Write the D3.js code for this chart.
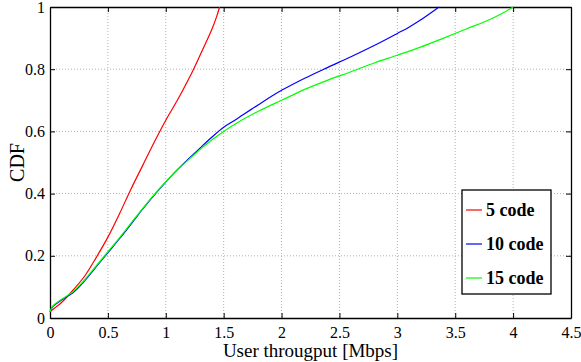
<!DOCTYPE html>
<html>
<head>
<meta charset="utf-8">
<script src="https://cdn.jsdelivr.net/npm/d3@7"></script>
<style>
  body { margin: 0; background: #fff; }
  svg, svg text { font-family: "Liberation Serif", "DejaVu Serif", serif; }
  .grid line { stroke: #b0b0b0; stroke-dasharray: 1, 2; }
</style>
</head>
<body>
<div id="chart"></div>
<script>
(function () {
  var seriesNames = ['5 code', '10 code', '15 code'];
  var seriesColors = ['#ff0000', '#0000ff', '#00ff00'];

  // throughput [Mbps] and CDF values
  var x5 = [0, 0.05, 0.1, 0.2, 0.3, 0.4, 0.5, 0.6, 0.7, 0.8, 0.9, 1.0, 1.1, 1.2, 1.24, 1.3, 1.35, 1.4, 1.44, 1.465];
  var y5 = [0.02, 0.035, 0.05, 0.09, 0.135, 0.195, 0.26, 0.335, 0.415, 0.49, 0.565, 0.636, 0.70, 0.77, 0.80, 0.848, 0.888, 0.93, 0.97, 1.0];

  var x10 = [0, 0.02, 0.05, 0.1, 0.2, 0.3, 0.4, 0.5, 0.6, 0.7, 0.8, 0.9, 1.0, 1.1, 1.2, 1.3, 1.4, 1.5, 1.6, 1.8, 2.0, 2.2, 2.4, 2.6, 2.8, 3.0, 3.1, 3.2, 3.3, 3.36];
  var y10 = [0.02, 0.035, 0.045, 0.058, 0.082, 0.12, 0.165, 0.21, 0.255, 0.302, 0.35, 0.395, 0.437, 0.477, 0.513, 0.548, 0.582, 0.613, 0.637, 0.686, 0.732, 0.771, 0.806, 0.84, 0.876, 0.915, 0.935, 0.958, 0.984, 1.0];

  var x15 = [0, 0.02, 0.05, 0.1, 0.2, 0.3, 0.4, 0.5, 0.6, 0.7, 0.8, 0.9, 1.0, 1.1, 1.2, 1.3, 1.4, 1.5, 1.6, 1.8, 2.0, 2.2, 2.4, 2.6, 2.8, 3.0, 3.2, 3.4, 3.6, 3.8, 3.9, 4.0];
  var y15 = [0.02, 0.037, 0.047, 0.06, 0.085, 0.123, 0.168, 0.213, 0.258, 0.305, 0.352, 0.397, 0.438, 0.476, 0.51, 0.543, 0.573, 0.6, 0.624, 0.665, 0.70, 0.735, 0.765, 0.792, 0.82, 0.845, 0.871, 0.9, 0.93, 0.96, 0.978, 1.0];

  var xTicks = [0, 0.5, 1, 1.5, 2, 2.5, 3, 3.5, 4, 4.5];
  var yTicks = [0, 0.2, 0.4, 0.6, 0.8, 1];

  var W = 581, H = 362;
  var left = 50, right = 571, top = 7, bottom = 318;

  var svg = d3.select('#chart').append('svg')
      .attr('width', W).attr('height', H);

  var x = d3.scaleLinear().domain([0, 4.5]).range([left, right]);
  var y = d3.scaleLinear().domain([0, 1]).range([bottom, top]);

  function fmt(v) { return String(v); }

  // grid
  var grid = svg.append('g').attr('class', 'grid');
  grid.selectAll('.gx').data(xTicks.slice(1, -1)).enter().append('line')
      .attr('x1', function (d) { return x(d); }).attr('x2', function (d) { return x(d); })
      .attr('y1', top).attr('y2', bottom);
  grid.selectAll('.gy').data(yTicks.slice(1, -1)).enter().append('line')
      .attr('y1', function (d) { return y(d); }).attr('y2', function (d) { return y(d); })
      .attr('x1', left).attr('x2', right);

  // axes, ticks pointing inward on all four sides
  var tickLen = 5;
  var axes = [];
  axes.push(svg.append('g').attr('transform', 'translate(0,' + bottom + ')')
      .call(d3.axisBottom(x).tickValues(xTicks).tickFormat(fmt).tickSizeInner(-tickLen).tickSizeOuter(0).tickPadding(9)));
  axes.push(svg.append('g').attr('transform', 'translate(0,' + top + ')')
      .call(d3.axisTop(x).tickValues(xTicks).tickFormat('').tickSizeInner(-tickLen).tickSizeOuter(0)));
  axes.push(svg.append('g').attr('transform', 'translate(' + left + ',0)')
      .call(d3.axisLeft(y).tickValues(yTicks).tickFormat(fmt).tickSizeInner(-tickLen).tickSizeOuter(0).tickPadding(5)));
  axes.push(svg.append('g').attr('transform', 'translate(' + right + ',0)')
      .call(d3.axisRight(y).tickValues(yTicks).tickFormat('').tickSizeInner(-tickLen).tickSizeOuter(0)));

  axes.forEach(function (g) {
    g.attr('font-family', null).attr('font-size', 16);
  });
  svg.selectAll('.tick text')
      .style('font-family', '"Liberation Serif", serif')
      .style('font-size', '16px')
      .attr('fill', '#000');
  svg.selectAll('.domain').attr('stroke', '#000').attr('stroke-width', 1.3);
  svg.selectAll('.tick line').attr('stroke', '#000');

  // curves
  var line = d3.line()
      .x(function (d) { return x(d[0]); })
      .y(function (d) { return y(d[1]); })
      .curve(d3.curveCatmullRom.alpha(0.5));

  var series = [d3.zip(x5, y5), d3.zip(x10, y10), d3.zip(x15, y15)];
  series.forEach(function (pts, i) {
    svg.append('path')
        .datum(pts)
        .attr('d', line)
        .attr('fill', 'none')
        .attr('stroke', seriesColors[i])
        .attr('stroke-width', 1.2);
  });

  // axis labels
  svg.append('text')
      .attr('x', (left + right) / 2)
      .attr('y', 357)
      .attr('text-anchor', 'middle')
      .attr('font-size', 19)
      .text('User througput [Mbps]');

  svg.append('text')
      .attr('transform', 'translate(24,' + ((top + bottom) / 2) + ') rotate(-90)')
      .attr('text-anchor', 'middle')
      .attr('font-size', 20)
      .text('CDF');

  // legend
  var lg = svg.append('g').attr('transform', 'translate(462,190)');
  lg.append('rect')
      .attr('width', 89).attr('height', 104)
      .attr('fill', '#fff').attr('stroke', '#000').attr('stroke-width', 1.3);
  seriesNames.forEach(function (name, i) {
    var yy = 20 + i * 34;
    lg.append('line')
        .attr('x1', 4).attr('x2', 20).attr('y1', yy).attr('y2', yy)
        .attr('stroke', seriesColors[i]).attr('stroke-width', 1.2);
    lg.append('text')
        .attr('x', 24).attr('y', yy + 6)
        .attr('font-size', 18).attr('font-weight', 'bold')
        .text(name);
  });
}());
</script>
</body>
</html>
